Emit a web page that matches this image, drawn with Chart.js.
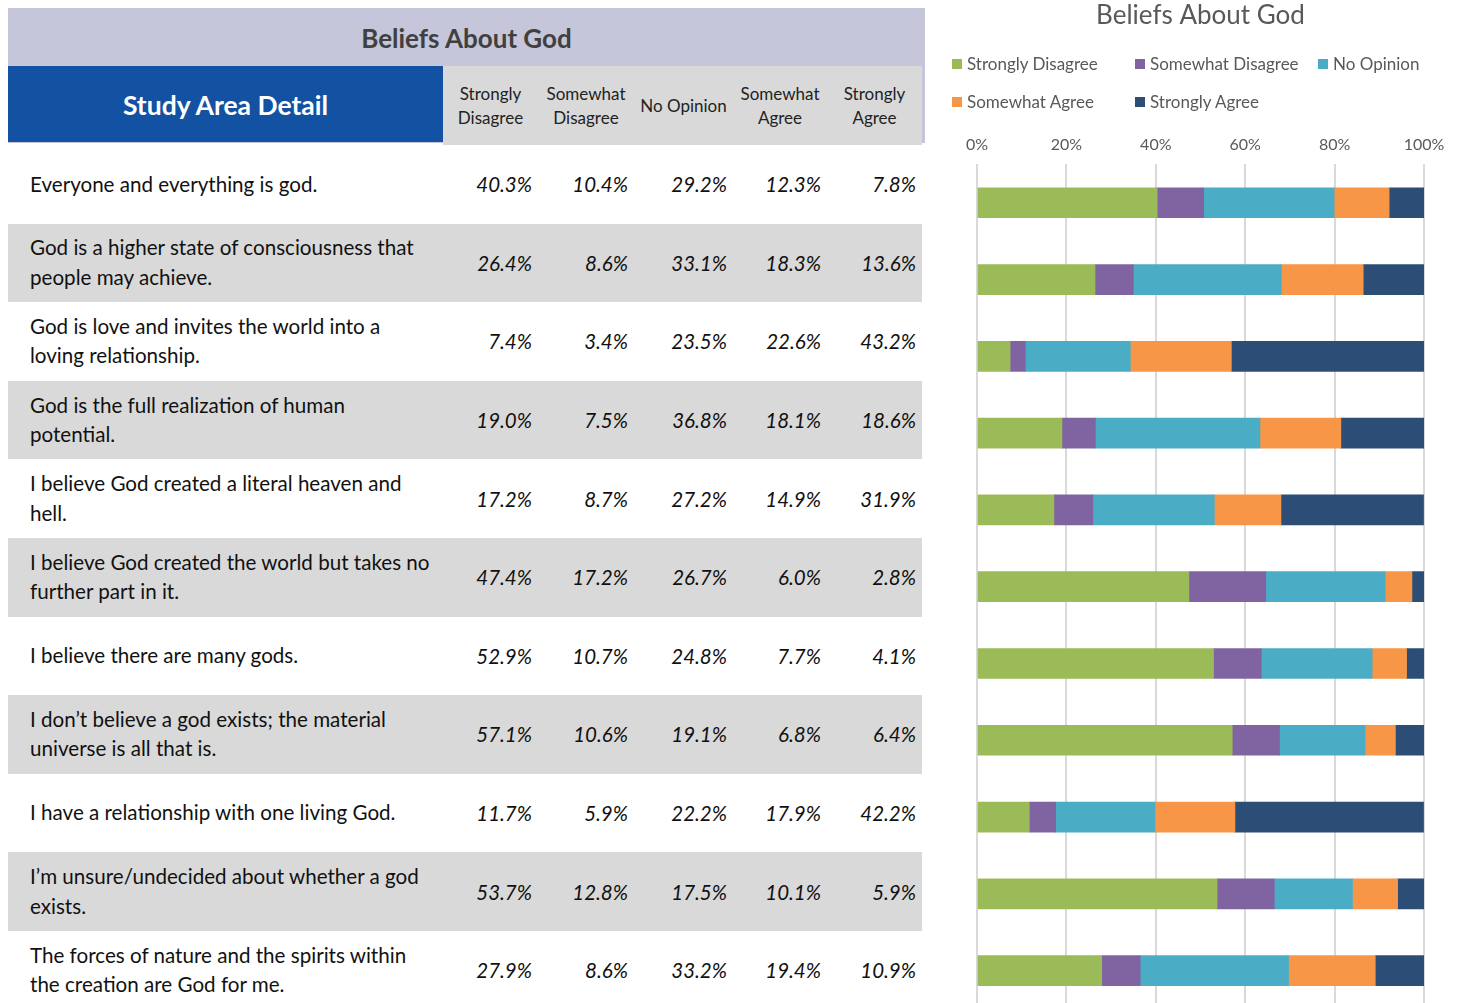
<!DOCTYPE html>
<html>
<head>
<meta charset="utf-8">
<script src="https://cdn.jsdelivr.net/npm/chart.js@4/dist/chart.umd.min.js"></script>
<style>
  html, body { margin: 0; padding: 0; background: #fff; overflow: hidden; }
  body { width: 1457px; height: 1003px; position: relative; font-family: Lato, "Open Sans", sans-serif; }
  #head { position: absolute; left: 8px; top: 8px; width: 917px; height: 135px; background: #c5c6d9; }
  #tabletitle { position: absolute; left: 0; top: 0; width: 917px; height: 58px; line-height: 60px;
    text-align: center; font-weight: bold; font-size: 26px; color: #404040; }
  #study { position: absolute; left: 8px; top: 66px; width: 435px; height: 76px; background: #1352a2;
    color: #fff; font-weight: bold; font-size: 26.5px; line-height: 78px; text-align: center; }
  .colhead { position: absolute; top: 66px; height: 79px; background: #d9d9d9; display: flex;
    align-items: center; justify-content: center; text-align: center; font-size: 17px;
    line-height: 24px; color: #222; }
  .row { position: absolute; left: 8px; width: 914px; }
  .row.gray { background: #d9d9d9; }
  .lbl { position: absolute; left: 22px; top: 0; height: 100%; display: flex; align-items: center;
    font-size: 20.6px; line-height: 29.5px; color: #111; white-space: nowrap; }
  .val { position: absolute; top: 0; height: 100%; display: flex; align-items: center;
    justify-content: flex-end; font-style: italic; font-size: 20.5px; color: #111; }
  #chartbox { position: absolute; left: 935px; top: 0; width: 522px; height: 1009px; }
  #legend { position: absolute; left: 952px; top: 53px; width: 500px; font-size: 17px; color: #595959; }
  .item { position: absolute; display: flex; align-items: center; white-space: nowrap; }
  .sw { width: 10px; height: 10px; margin-right: 5px; }
</style>
</head>
<body>
<div id="head"><div id="tabletitle">Beliefs About God</div></div>
<div id="study">Study Area Detail</div>
<div id="table"></div>
<div id="chartbox"><canvas id="beliefs"></canvas></div>
<div id="legend"></div>
<script>
var categories = [
  ["Everyone and everything is god."],
  ["God is a higher state of consciousness that", "people may achieve."],
  ["God is love and invites the world into a", "loving relationship."],
  ["God is the full realization of human", "potential."],
  ["I believe God created a literal heaven and", "hell."],
  ["I believe God created the world but takes no", "further part in it."],
  ["I believe there are many gods."],
  ["I don\u2019t believe a god exists; the material", "universe is all that is."],
  ["I have a relationship with one living God."],
  ["I\u2019m unsure/undecided about whether a god", "exists."],
  ["The forces of nature and the spirits within", "the creation are God for me."]
];
var seriesNames = ["Strongly Disagree", "Somewhat Disagree", "No Opinion", "Somewhat Agree", "Strongly Agree"];
var columnHeads = [["Strongly", "Disagree"], ["Somewhat", "Disagree"], ["No Opinion"], ["Somewhat", "Agree"], ["Strongly", "Agree"]];

var stronglyDisagree = [40.3, 26.4, 7.4, 19.0, 17.2, 47.4, 52.9, 57.1, 11.7, 53.7, 27.9];
var somewhatDisagree = [10.4, 8.6, 3.4, 7.5, 8.7, 17.2, 10.7, 10.6, 5.9, 12.8, 8.6];
var noOpinion = [29.2, 33.1, 23.5, 36.8, 27.2, 26.7, 24.8, 19.1, 22.2, 17.5, 33.2];
var somewhatAgree = [12.3, 18.3, 22.6, 18.1, 14.9, 6.0, 7.7, 6.8, 17.9, 10.1, 19.4];
var stronglyAgree = [7.8, 13.6, 43.2, 18.6, 31.9, 2.8, 4.1, 6.4, 42.2, 5.9, 10.9];

var xTicks = ["0%", "20%", "40%", "60%", "80%", "100%"];

var series = [stronglyDisagree, somewhatDisagree, noOpinion, somewhatAgree, stronglyAgree];
var colors = ["#9bbb59", "#8064a2", "#4bacc6", "#f79646", "#2c4e76"];

// table on the left
var colLeft = [443, 538, 634, 733, 827];
var colWidth = [95, 96, 99, 94, 95];
var rowTop = 145, rowH = 78.6;

for (var c = 0; c < columnHeads.length; c++) {
  var h = document.createElement("div");
  h.className = "colhead";
  h.style.left = colLeft[c] + "px";
  h.style.width = colWidth[c] + "px";
  h.innerHTML = columnHeads[c].join("<br>");
  document.body.appendChild(h);
}

var table = document.getElementById("table");
for (var r = 0; r < categories.length; r++) {
  var row = document.createElement("div");
  row.className = "row" + (r % 2 == 1 ? " gray" : "");
  row.style.top = (rowTop + r * rowH) + "px";
  row.style.height = rowH + "px";
  var lbl = document.createElement("div");
  lbl.className = "lbl";
  lbl.innerHTML = categories[r].join("<br>");
  row.appendChild(lbl);
  for (var c = 0; c < series.length; c++) {
    var v = document.createElement("div");
    v.className = "val";
    v.style.left = (colLeft[c] - 8) + "px";
    v.style.width = (colWidth[c] - 6) + "px";
    v.textContent = series[c][r].toFixed(1) + "%";
    row.appendChild(v);
  }
  table.appendChild(row);
}

// legend, laid out in columns like the original
var legend = document.getElementById("legend");
for (var i = 0; i < seriesNames.length; i++) {
  var it = document.createElement("div");
  it.className = "item";
  it.style.left = (i % 3) * 183 + "px";
  it.style.top = Math.floor(i / 3) * 38 + "px";
  it.innerHTML = '<span class="sw" style="background:' + colors[i] + '"></span>' + seriesNames[i];
  legend.appendChild(it);
}

var datasets = [];
for (var i = 0; i < series.length; i++) {
  datasets.push({
    label: seriesNames[i],
    data: series[i],
    backgroundColor: colors[i],
    borderWidth: 0,
    barThickness: 30
  });
}

var ctx = document.getElementById("beliefs").getContext("2d");
var myChart = new Chart(ctx, {
  type: "bar",
  data: {
    labels: categories.map(function (l) { return l.join(" "); }),
    datasets: datasets
  },
  options: {
    indexAxis: "y",
    responsive: true,
    maintainAspectRatio: false,
    animation: false,
    layout: { padding: { left: 42, right: 33, top: 0, bottom: 0 } },
    plugins: {
      legend: { display: false },
      tooltip: { enabled: false },
      title: {
        display: true,
        text: "Beliefs About God",
        color: "#595959",
        font: { family: "Lato", size: 26, weight: "normal" },
        padding: { top: 0, bottom: 94 }
      }
    },
    scales: {
      x: {
        position: "top",
        stacked: true,
        min: 0,
        max: 100,
        border: { display: false },
        grid: { color: "#d9d9d9", lineWidth: 2, drawTicks: false },
        ticks: {
          stepSize: 20,
          padding: 10,
          color: "#595959",
          font: { family: "Lato", size: 16 },
          callback: function (value, index) { return xTicks[index]; }
        }
      },
      y: {
        stacked: true,
        display: false
      }
    }
  }
});
</script>
</body>
</html>
